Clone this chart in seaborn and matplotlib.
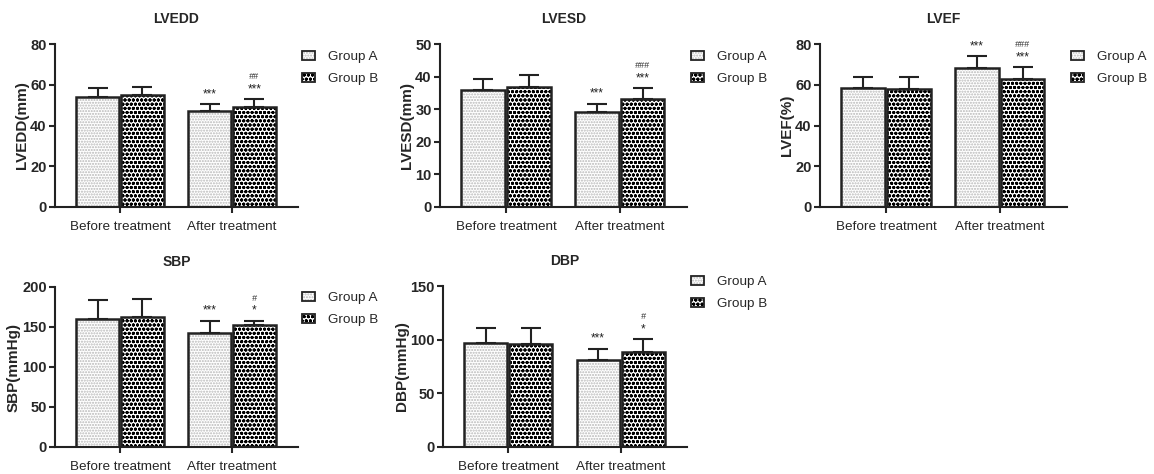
import numpy as np
import pandas as pd
import matplotlib
matplotlib.use("Agg")
import matplotlib.pyplot as plt
from matplotlib.patches import Patch, Rectangle
from matplotlib.container import BarContainer
from matplotlib.legend_handler import HandlerTuple
import seaborn as sns

# DATA (mean and SD)

categories = ["Before treatment", "After treatment"]
groups = ["Group A", "Group B"]

metrics = ["LVEDD", "LVESD", "LVEF", "SBP", "DBP"]
ylabels = ["LVEDD(mm)", "LVESD(mm)", "LVEF(%)", "SBP(mmHg)", "DBP(mmHg)"]
ymax = [80, 50, 80, 200, 150]
ystep = [20, 10, 20, 50, 50]

lvedd_a = [54.2, 47.1]
lvedd_b = [55.0, 49.3]
lvedd_sd_a = [4.1, 3.3]
lvedd_sd_b = [4.1, 3.6]

lvesd_a = [35.9, 29.1]
lvesd_b = [36.8, 33.2]
lvesd_sd_a = [3.3, 2.6]
lvesd_sd_b = [3.6, 3.2]

lvef_a = [58.3, 68.1]
lvef_b = [57.8, 62.7]
lvef_sd_a = [5.7, 5.8]
lvef_sd_b = [5.9, 5.9]

sbp_a = [159.8, 142.0]
sbp_b = [162.7, 152.0]
sbp_sd_a = [23.6, 16.0]
sbp_sd_b = [22.0, 5.5]

dbp_a = [96.7, 81.2]
dbp_b = [96.1, 88.4]
dbp_sd_a = [14.0, 10.2]
dbp_sd_b = [15.2, 12.1]

# significance marks: vs before (stars), vs group A (hashes)
stars_a = [["", "***"], ["", "***"], ["", "***"], ["", "***"], ["", "***"]]
stars_b = [["", "***"], ["", "***"], ["", "***"], ["", "*"], ["", "*"]]
hash_b = [["", "##"], ["", "###"], ["", "###"], ["", "#"], ["", "#"]]

means_a = [lvedd_a, lvesd_a, lvef_a, sbp_a, dbp_a]
means_b = [lvedd_b, lvesd_b, lvef_b, sbp_b, dbp_b]
sds_a = [lvedd_sd_a, lvesd_sd_a, lvef_sd_a, sbp_sd_a, dbp_sd_a]
sds_b = [lvedd_sd_b, lvesd_sd_b, lvef_sd_b, sbp_sd_b, dbp_sd_b]

# STYLE

sns.set_style("ticks")
plt.rcParams["font.family"] = ["Liberation Sans", "DejaVu Sans"]
plt.rcParams["hatch.linewidth"] = 1.0

W, H = 1154, 474
fig = plt.figure(figsize=(W / 100, H / 100), dpi=100)

# axes boxes in pixels: left, top, right, bottom
boxes = [(55, 44, 298, 207), (440, 44, 687, 207), (820, 44, 1067, 207),
         (55, 287, 298, 447), (443, 286, 687, 447)]
# legend first row y (pixels)
legend_y = [51, 51, 51, 292, 276]

hatch_a = dict(hatch="......", color="#b8b8b8")
hatch_b = dict(hatch="oooo", color="black")
outline_col = "#222222"


def style_bar(ax, bar, hatch, color):
    bar.set_facecolor("white")
    bar.set_edgecolor(color)
    bar.set_linewidth(0)
    bar.set_hatch(hatch)
    outline = Rectangle(bar.get_xy(), bar.get_width(), bar.get_height(),
                        facecolor="none", edgecolor=outline_col, linewidth=1.8, zorder=3)
    ax.add_patch(outline)


for i, name in enumerate(metrics):
    l, t, r, b = boxes[i]
    ax = fig.add_axes([l / W, 1 - b / H, (r - l) / W, (b - t) / H])

    df = pd.DataFrame({
        "category": categories * 2,
        "group": [groups[0]] * 2 + [groups[1]] * 2,
        "value": means_a[i] + means_b[i],
    })
    sns.barplot(data=df, x="category", y="value", hue="group", order=categories,
                hue_order=groups, errorbar=None, width=0.8, gap=0.04, ax=ax,
                legend=False)

    sds = [sds_a[i], sds_b[i]]
    means = [means_a[i], means_b[i]]
    bar_containers = [c for c in ax.containers if isinstance(c, BarContainer)]
    for g, cont in enumerate(bar_containers):
        hs = hatch_a if g == 0 else hatch_b
        centers = []
        for bar in cont.patches:
            style_bar(ax, bar, hs["hatch"], hs["color"])
            centers.append(bar.get_x() + bar.get_width() / 2)
        centers = np.array(centers)
        ax.errorbar(centers, means[g], yerr=[np.zeros(2), sds[g]], fmt="none",
                    ecolor=outline_col, elinewidth=1.5, capsize=7.5, capthick=1.5, zorder=2)
        for j, x in enumerate(centers):
            top = means[g][j] + sds[g][j]
            st = stars_a[i][j] if g == 0 else stars_b[i][j]
            if st:
                ax.annotate(st, (x, top), xytext=(0, 3), textcoords="offset points",
                            ha="center", va="bottom", fontsize=8.5, color=outline_col)
            if g == 1 and hash_b[i][j]:
                ax.annotate(hash_b[i][j], (x, top), xytext=(0, 13), textcoords="offset points",
                            ha="center", va="bottom", fontsize=6.5, color="#333333",
                            fontstyle="italic")

    ax.set_xlim(-0.58, 1.59)
    ax.set_ylim(0, ymax[i])
    ax.set_yticks(np.arange(0, ymax[i] + 1, ystep[i]))
    ax.set_title(name, fontsize=10, fontweight="bold", pad=15)
    ax.set_ylabel(ylabels[i], fontsize=11, fontweight="bold", labelpad=1)
    ax.set_xlabel("")
    for lab in ax.get_yticklabels():
        lab.set_fontweight("bold")
    ax.tick_params(axis="y", labelsize=10.5, width=1.5, length=4, pad=2)
    ax.tick_params(axis="x", labelsize=9.7, width=1.5, length=4, pad=6)
    for s in ["left", "bottom"]:
        ax.spines[s].set_linewidth(1.5)
        ax.spines[s].set_color(outline_col)
    sns.despine(ax=ax)

    handles = []
    for hs in [hatch_a, hatch_b]:
        fill = Patch(facecolor="white", edgecolor=hs["color"], hatch=hs["hatch"], linewidth=0)
        edge = Patch(facecolor="none", edgecolor=outline_col, linewidth=1.3)
        handles.append((fill, edge))
    ax.legend(handles, groups, loc="upper left", frameon=False, fontsize=9.7,
              bbox_to_anchor=((r + 4) / W, 1 - legend_y[i] / H),
              bbox_transform=fig.transFigure, borderpad=0, borderaxespad=0,
              handlelength=1.0, handleheight=0.6, handletextpad=0.9,
              labelspacing=0.75, handler_map={tuple: HandlerTuple(ndivide=1, pad=0)})

fig.savefig("out.png", dpi=100)
